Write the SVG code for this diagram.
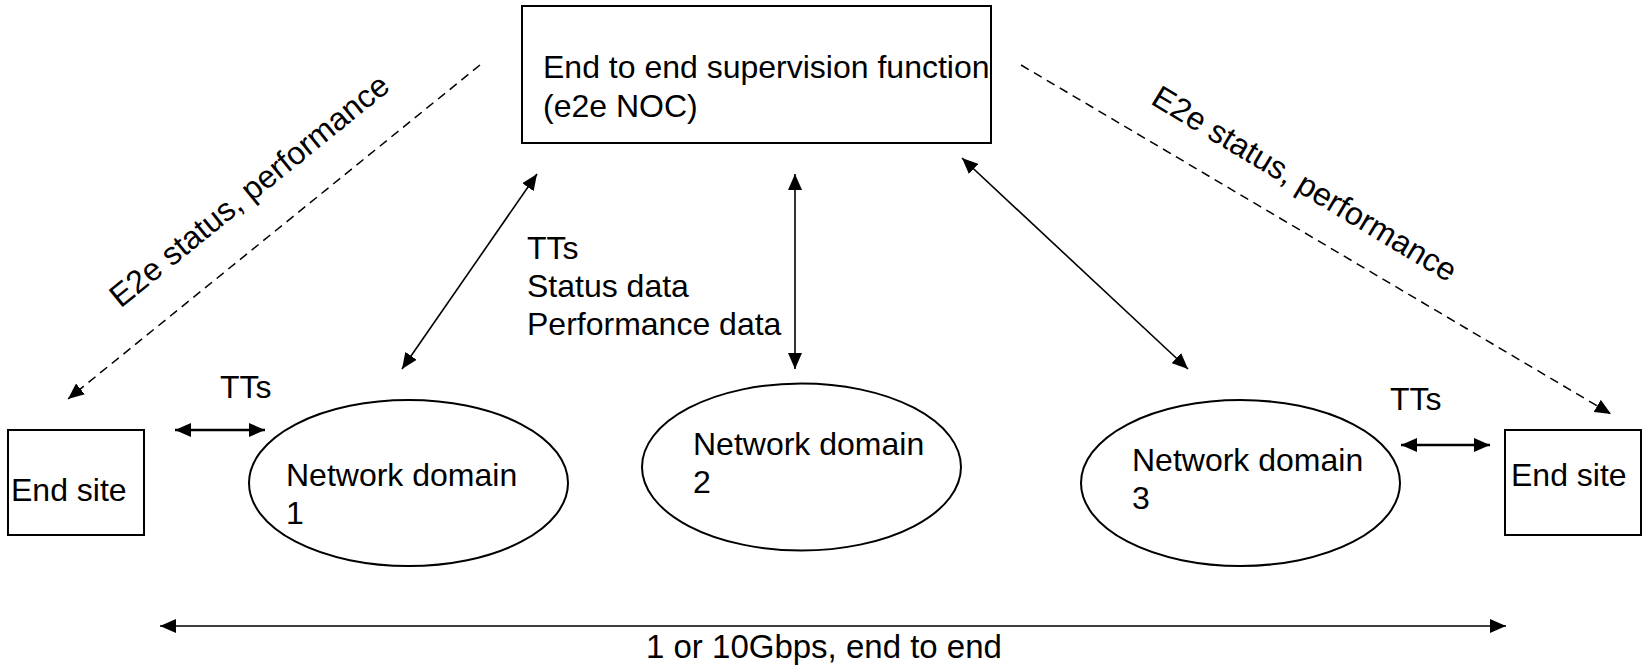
<svg xmlns="http://www.w3.org/2000/svg" width="1643" height="668" viewBox="0 0 1643 668">
<style>
text{font-family:"Liberation Sans",Arial,Helvetica,sans-serif;font-size:32px;fill:#000}
.box{fill:#fff;stroke:#000;stroke-width:2}
.ell{fill:#fff;stroke:#000;stroke-width:2}
.c{stroke:#000;fill:none;stroke-width:1.6}
.tt{stroke:#000;fill:none;stroke-width:2.4}
.dash{stroke:#000;fill:none;stroke-width:1.5;stroke-dasharray:9 6}
</style>
<defs>
<marker id="ah" markerUnits="userSpaceOnUse" viewBox="0 0 16 14" refX="16" refY="7" markerWidth="16" markerHeight="14" orient="auto-start-reverse">
<path d="M0,0 L16,7 L0,14 z" fill="#000"/>
</marker>
</defs>
<rect width="1643" height="668" fill="#fff"/>
<g id="connectors">
<line class="dash" x1="480" y1="65" x2="68" y2="399" marker-end="url(#ah)"/>
<line class="dash" x1="1021" y1="65" x2="1611" y2="414" marker-end="url(#ah)"/>
<line class="c" x1="537" y1="174" x2="402" y2="369" marker-start="url(#ah)" marker-end="url(#ah)"/>
<line class="c" x1="795" y1="174" x2="795" y2="369" marker-start="url(#ah)" marker-end="url(#ah)"/>
<line class="c" x1="962" y1="158" x2="1188" y2="369" marker-start="url(#ah)" marker-end="url(#ah)"/>
<line class="tt" x1="175" y1="430" x2="265" y2="430" marker-start="url(#ah)" marker-end="url(#ah)"/>
<line class="tt" x1="1401" y1="445" x2="1490" y2="445" marker-start="url(#ah)" marker-end="url(#ah)"/>
<line class="c" x1="160" y1="626" x2="1506" y2="626" stroke-width="2" marker-start="url(#ah)" marker-end="url(#ah)"/>
<text x="256" y="199" text-anchor="middle" transform="rotate(-39 256 199)">E2e status, performance</text>
<text x="1299" y="193" text-anchor="middle" transform="rotate(31 1299 193)">E2e status, performance</text>
<text x="527" y="259">TTs</text>
<text x="527" y="297">Status data</text>
<text x="527" y="335">Performance data</text>
<text x="220" y="398">TTs</text>
<text x="1390" y="410">TTs</text>
<text x="646" y="658" style="font-size:33px">1 or 10Gbps, end to end</text>
</g>
<g id="noc">
<rect class="box" x="522" y="6" width="469" height="137"/>
<text x="543" y="78">End to end supervision function</text>
<text x="543" y="117">(e2e NOC)</text>
</g>
<g id="endsite-left">
<rect class="box" x="8" y="430" width="136" height="105"/>
<text x="11" y="501">End site</text>
</g>
<g id="endsite-right">
<rect class="box" x="1505" y="430" width="136" height="105"/>
<text x="1511" y="486">End site</text>
</g>
<g id="domain1">
<ellipse class="ell" cx="408.5" cy="483" rx="159.5" ry="83"/>
<text x="286" y="486">Network domain</text>
<text x="286" y="524">1</text>
</g>
<g id="domain2">
<ellipse class="ell" cx="801.5" cy="467" rx="159.5" ry="83.5"/>
<text x="693" y="455">Network domain</text>
<text x="693" y="493">2</text>
</g>
<g id="domain3">
<ellipse class="ell" cx="1240.5" cy="483" rx="159.5" ry="83"/>
<text x="1132" y="471">Network domain</text>
<text x="1132" y="509">3</text>
</g>
</svg>
